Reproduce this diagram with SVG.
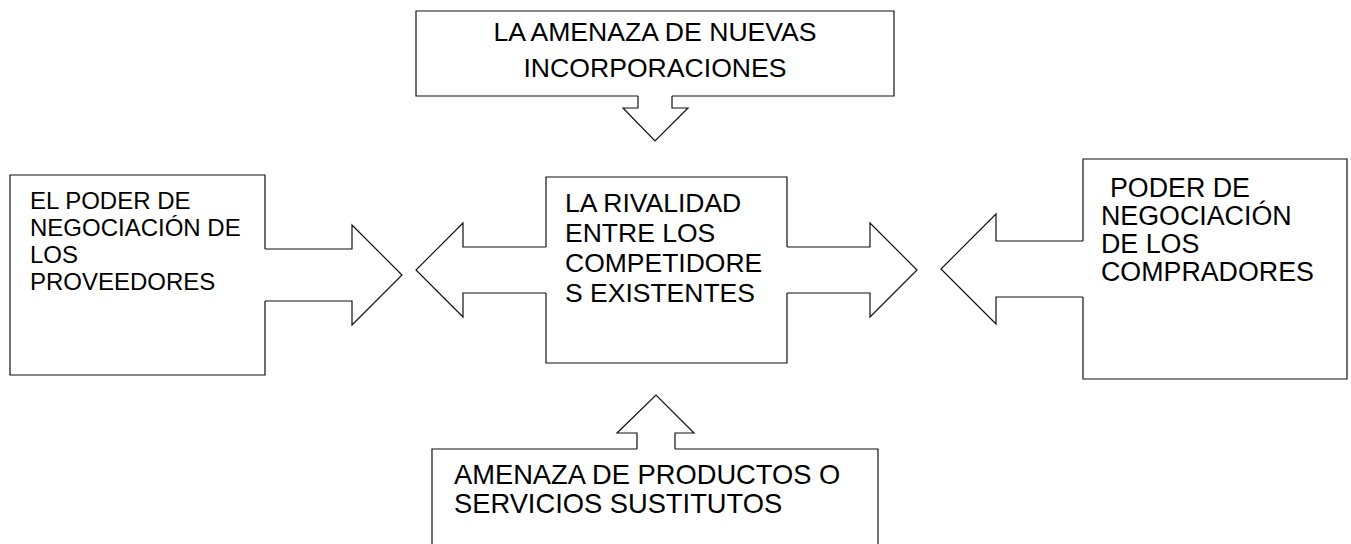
<svg xmlns="http://www.w3.org/2000/svg" width="1351" height="544" viewBox="0 0 1351 544">
<style>
.shape{fill:none;stroke:#111;stroke-width:1.2;stroke-linejoin:miter}
.bg{fill:#fff;stroke:none}
text{font-family:"Liberation Sans",Arial,sans-serif;fill:#000}
</style>
<rect class="bg" x="0" y="0" width="1351" height="544"/>
<g id="node-nuevas">
<path class="shape" d="M638,96 H416 V11 H894 V96 H672"/>
<text x="655" y="41" font-size="26.6" text-anchor="middle">LA AMENAZA DE NUEVAS</text>
<text x="655" y="77" font-size="26.6" text-anchor="middle">INCORPORACIONES</text>
</g>
<g id="node-proveedores">
<path class="shape" d="M265,249 V175 H10 V375 H265 V301"/>
<text font-size="24" x="30"><tspan x="30" y="209">EL PODER DE</tspan><tspan x="30" y="236">NEGOCIACIÓN DE</tspan><tspan x="30" y="263">LOS</tspan><tspan x="30" y="290">PROVEEDORES</tspan></text>
</g>
<g id="node-rivalidad">
<path class="shape" d="M546,247 V177 H787 V247 M787,293 V363 H546 V293"/>
<text font-size="26.5" x="565"><tspan x="565" y="212">LA RIVALIDAD</tspan><tspan x="565" y="242">ENTRE LOS</tspan><tspan x="565" y="272">COMPETIDORE</tspan><tspan x="565" y="302">S EXISTENTES</tspan></text>
</g>
<g id="node-compradores">
<path class="shape" d="M1083,241 V159 H1347 V379 H1083 V297"/>
<text font-size="26.8" x="1101"><tspan x="1110" y="197">PODER DE</tspan><tspan x="1101" y="225">NEGOCIACIÓN</tspan><tspan x="1101" y="253">DE LOS</tspan><tspan x="1101" y="281">COMPRADORES</tspan></text>
</g>
<g id="node-sustitutos">
<path class="shape" d="M637,449 H432 V560 H878 V449 H675"/>
<text font-size="27.3" x="454"><tspan x="454" y="484">AMENAZA DE PRODUCTOS O</tspan><tspan x="454" y="513">SERVICIOS SUSTITUTOS</tspan></text>
</g>
<g id="connectors">
<path class="shape" d="M638,96 V108 H623 L655,141 L688,108 H672 V96"/>
<path class="shape" d="M265,249 H352 V225 L402,275 L352,325 V301 H265"/>
<path class="shape" d="M546,247 H463 V223 L416,270 L463,317 V293 H546"/>
<path class="shape" d="M787,247 H870 V223 L917,270 L870,317 V293 H787"/>
<path class="shape" d="M1083,241 H996 V214 L941,269 L996,324 V297 H1083"/>
<path class="shape" d="M637,449 V433 H617 L656,395 L694,433 H675 V449"/>
</g>
</svg>
